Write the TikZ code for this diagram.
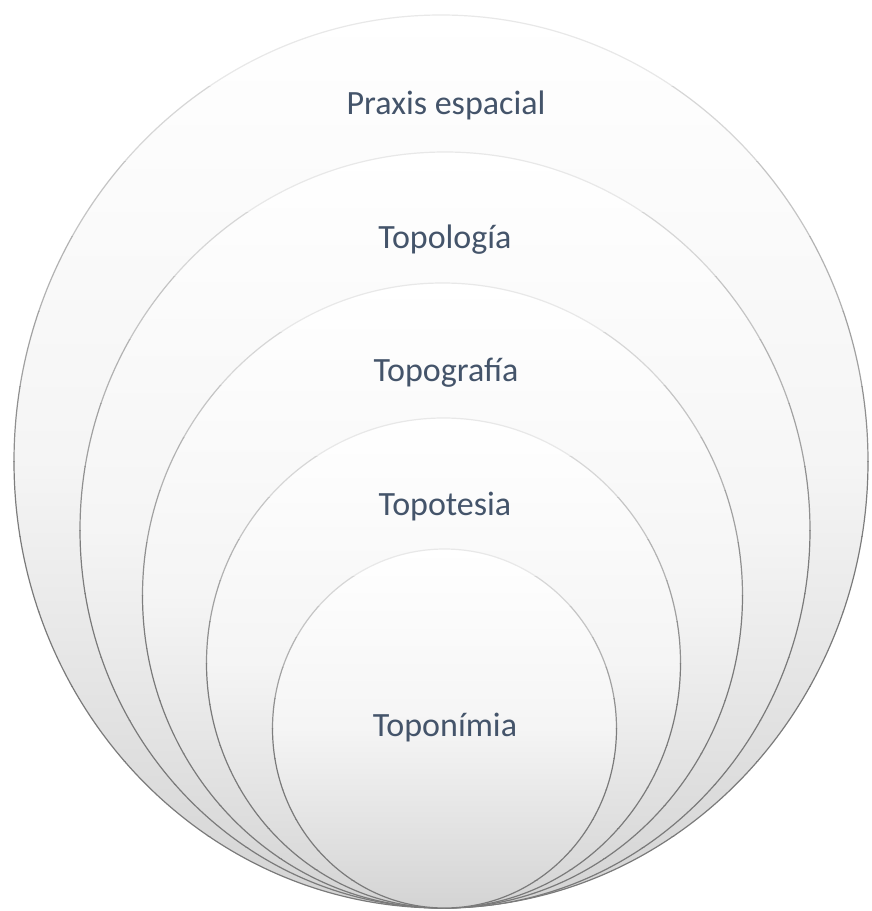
\documentclass[tikz,border=0pt]{standalone}
\usepackage{fontspec}
\setmainfont{Carlito}
\definecolor{txtblue}{RGB}{68,84,106}
\newcommand\ringoutline[4]{%
  \foreach \k in {0,...,11}{%
    \pgfmathsetmacro\ringshade{min(9+\k*7,52)}%
    \pgfmathsetmacro\ringya{#2-#4-3+\k*(2*#4+6)/12}%
    \pgfmathsetmacro\ringyb{#2-#4-3+(\k+1)*(2*#4+6)/12}%
    \begin{scope}
      \clip (#1-#3-5,\ringya) rectangle (#1+#3+5,\ringyb);
      \draw[draw=black!\ringshade, line width=1.2pt] (#1,#2) ellipse [x radius=#3, y radius=#4];
    \end{scope}}}
\begin{document}
\begin{tikzpicture}[x=1pt,y=-1pt,
  ringfill/.style={top color=white, bottom color=black!17, middle color=white!96!black},
  lbl/.style={text=txtblue, font=\fontsize{34}{40}\selectfont, inner sep=0pt}]
\useasboundingbox (0,0) rectangle (872,911);
\fill[white] (0,0) rectangle (872,911);
% outer
\path[ringfill] (441,461.5) ellipse [x radius=427, y radius=446.5];
\ringoutline{441}{461.5}{427}{446.5}
% ring 2
\path[ringfill] (445,530) ellipse [x radius=365, y radius=378];
\ringoutline{445}{530}{365}{378}
% ring 3
\path[ringfill] (442.5,595.5) ellipse [x radius=300, y radius=312.5];
\ringoutline{442.5}{595.5}{300}{312.5}
% ring 4
\path[ringfill] (443.5,663) ellipse [x radius=237, y radius=245];
\ringoutline{443.5}{663}{237}{245}
% ring 5
\path[ringfill] (444.5,728.5) ellipse [x radius=172, y radius=179.5];
\ringoutline{444.5}{728.5}{172}{179.5}
\node[lbl] (praxis) at (446,105) {Praxis espacial};
\node[lbl] (topologia) at (445,240) {Topología};
\node[lbl] (topografia) at (446,373) {Topografía};
\node[lbl] (topotesia) at (445,507) {Topotesia};
\node[lbl] (toponimia) at (445,728) {Toponímia};
\end{tikzpicture}
\end{document}
